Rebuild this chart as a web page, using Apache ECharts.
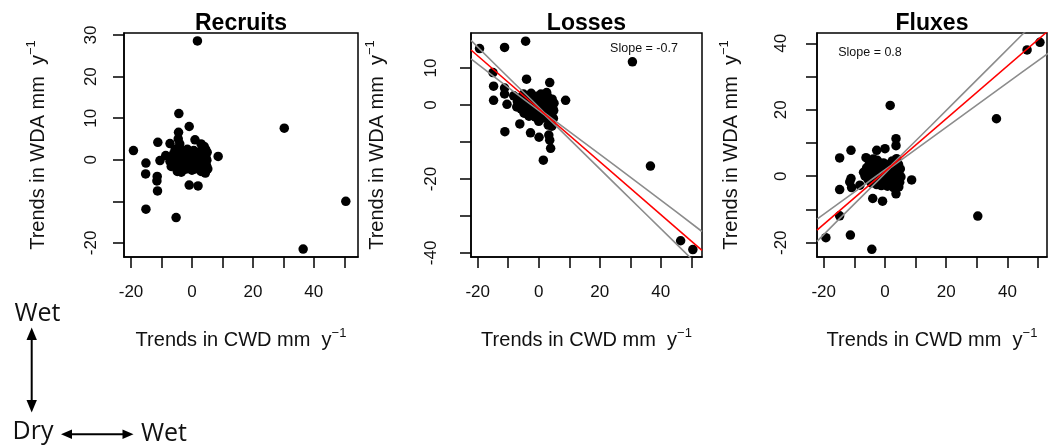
<!DOCTYPE html>
<html><head><meta charset="utf-8">
<script src="https://cdn.jsdelivr.net/npm/echarts@6/dist/echarts.min.js"></script>
<style>html,body{margin:0;padding:0;background:#fff}#c{width:1048px;height:448px}</style>
</head><body><div id="c"></div>
<script>
// ---------------- data ----------------
const panelTitles = ['Recruits', 'Losses', 'Fluxes'];
const xName = 'Trends in CWD mm  y';
const yName = 'Trends in WDA mm  y';
const xTicks = [-20, -10, 0, 10, 20, 30, 40, 50];
const xLabels = [-20, 0, 20, 40];
const recYTicks = [-20, -10, 0, 10, 20, 30];
const recYLabels = [-20, 0, 10, 20, 30];
const losYTicks = [-40, -30, -20, -10, 0, 10];
const losYLabels = [-40, -20, 0, 10];
const fluYTicks = [-20, -10, 0, 10, 20, 30, 40];
const fluYLabels = [-20, 0, 20, 40];

const recruits = [
  [-19.2,2.2],[1.8,28.6],[30.3,7.6],[50.5,-10.0],[36.5,-21.5],
  [-15.1,-0.8],[-15.2,-3.4],[-15.1,-11.9],[-11.2,4.2],[-11.4,-4.0],[-11.5,-5.1],[-11.3,-7.5],
  [-10.5,-0.2],[-5.2,-13.9],[-4.3,11.1],[-0.9,8.0],[-4.4,6.6],[-7.2,3.9],[1.0,4.8],[-0.9,-6.1],
  [2.0,-6.3],[8.6,0.8],[-8.6,1.0],[-4.5,5.0],[-4.0,3.8],[-3.8,2.5],[3.0,3.8],[4.0,3.2],[4.5,2.5],[-5.5,2.5],
  [-6.0,1.5],[-6.5,0.5],[-5.8,-0.8],[-5.2,-1.8],[-4.8,-2.8],[-4.5,0.2],[-4.2,1.2],[-3.8,-0.5],[-3.5,-1.5],
  [-3.2,0.8],[-3.0,-2.5],[-2.8,1.8],[-2.5,-0.2],[-2.2,-1.2],[-2.0,0.9],[-1.8,-2.2],[-1.5,0.1],[-1.2,-0.9],
  [-1.0,1.2],[-0.8,-1.8],[-0.5,0.4],[-0.2,-0.6],[0.0,-2.5],[0.2,0.9],[0.5,-1.2],[0.8,0.2],[1.0,-2.2],
  [1.3,1.5],[1.5,-0.6],[1.8,0.5],[2.0,-1.5],[2.2,1.8],[2.5,-0.3],[2.8,0.9],[3.0,-2.8],[3.2,-1.0],[3.4,2.2],
  [3.6,0.2],[3.8,-1.8],[4.0,1.2],[4.2,-0.6],[4.4,-3.2],[4.6,0.6],[4.8,-1.4],[5.0,1.8],[5.2,-2.2],[4.9,-0.1],
  [-1.5,2.5],[0.6,2.2],[-3.5,-3.0],[-7.2,-0.4],[-6.8,-1.6]
];
const losses = [
  [-19.4,15.3],[-11.2,15.6],[-4.3,17.3],[30.7,11.7],[36.6,-16.5],[46.5,-36.7],[50.5,-39.1],
  [-15.0,8.8],[-14.8,5.1],[-14.8,1.3],[-11.2,4.6],[-11.2,3.0],[-10.4,0.2],[-11.1,-7.2],[-4.0,7.0],
  [3.6,6.1],[1.5,-14.9],[-2.7,-7.5],[0.1,-8.7],[3.3,-8.1],[3.6,-9.5],[3.9,-11.7],[-6.2,-5.1],
  [8.8,1.3],[-8.2,2.5],[4.3,-5.7],[0.0,-4.4],[3.1,-5.4],
  [-6.0,2.0],[-5.5,0.5],[-5.8,-1.0],[-5.0,3.0],[-4.8,-2.2],[-4.5,1.2],[-4.2,-0.5],[-4.0,2.5],[-3.8,-1.6],
  [-3.5,0.3],[-3.2,-3.0],[-3.0,1.5],[-2.8,-0.8],[-2.5,3.2],[-2.3,0.6],[-2.0,-2.0],[-1.8,1.8],[-1.5,-0.2],
  [-1.2,-3.2],[-1.0,0.9],[-0.8,-1.2],[-0.5,2.4],[-0.3,0.0],[0.0,-2.2],[0.2,1.2],[0.5,-0.6],[0.7,3.0],
  [1.0,-1.7],[1.2,0.5],[1.5,-3.5],[1.7,1.8],[2.0,-0.4],[2.2,-2.5],[2.5,0.9],[2.8,-1.2],[3.0,2.2],[3.2,-0.2],
  [3.4,-3.2],[3.6,1.0],[3.8,-1.8],[4.0,0.3],[4.2,-2.6],[4.4,1.6],[4.6,-0.9],[4.8,-3.6],[5.0,0.5],[4.9,-1.5],
  [-3.5,-2.6],[1.5,2.6],[2.6,3.4],[-7.0,1.0],[-7.2,-0.5]
];
const fluxes = [
  [-19.3,-18.5],[-14.8,-4.0],[-14.8,5.5],[-14.8,-11.9],[-11.1,7.8],[-11.3,-17.7],[-11.1,-0.7],[-11.5,-1.7],
  [-10.9,-3.4],[-8.2,-2.7],[-4.3,-22.0],[-4.0,-6.7],[-0.8,-7.5],[1.7,21.3],[36.4,17.3],[30.3,-12.0],
  [46.4,38.0],[50.6,40.3],[8.7,-1.1],[3.6,-5.3],[3.6,11.3],[3.6,9.2],[0.0,8.3],[-2.7,7.8],[-6.2,5.6],[3.8,5.3],
  [-7.0,1.2],[-6.5,0.0],[-6.0,2.5],[-5.5,-1.0],[-5.2,3.5],[-5.0,1.0],[-4.5,-2.0],[-4.2,4.5],[-4.0,2.0],
  [-3.6,-0.5],[-3.3,3.0],[-3.0,0.8],[-2.7,-2.5],[-2.5,4.8],[-2.2,1.8],[-2.0,-1.0],[-1.7,3.2],[-1.5,0.3],
  [-1.2,-2.8],[-1.0,2.2],[-0.7,-0.3],[-0.5,4.0],[-0.2,1.2],[0.0,-1.8],[0.3,2.8],[0.5,0.2],[0.8,-3.0],
  [1.0,1.5],[1.2,-0.8],[1.5,3.6],[1.7,0.6],[2.0,-2.0],[2.2,2.2],[2.5,-0.4],[2.8,-3.4],[3.0,1.2],[3.2,-1.4],
  [3.4,3.0],[3.6,0.2],[3.8,-2.5],[4.0,1.8],[4.2,-0.8],[4.4,3.6],[4.6,0.6],[4.8,-1.8],[5.0,2.2],[5.2,-0.2],
  [4.5,-3.2],[-3.8,5.2],[2.4,4.6]
];

// fitted regression lines and confidence bands
const lossesFit   = [[-22.2,14.9],[53.5,-39.3]];
const lossesUpper = [[-22.2,17.5],[-15,11.6],[-8,5.9],[-2,1.1],[2,-2.2],[6,-4.7],[15,-10.2],[25,-16.4],[35,-22.6],[45,-28.8],[53.5,-34.2]];
const lossesLower = [[-22.2,12.5],[-15,7.9],[-8,3.5],[-2,-0.2],[2,-2.7],[6,-5.9],[15,-13.2],[25,-21.3],[35,-29.4],[45,-37.5],[53.5,-44.4]];
const fluxesFit   = [[-22.2,-16.2],[53.5,43.9]];
const fluxesUpper = [[-22.2,-12.9],[-15,-8.1],[-8,-3.4],[-2,0.6],[2,3.3],[6,7.0],[15,15.2],[25,24.4],[35,33.6],[45,42.8],[53.5,50.6]];
const fluxesLower = [[-22.2,-19.6],[-15,-12.9],[-8,-6.5],[-2,-1.0],[2,2.7],[6,5.4],[15,11.4],[25,18.1],[35,24.8],[45,31.5],[53.5,37.1]];
const slopeTexts = ['Slope = -0.7', 'Slope = 0.8'];
const dirLabels = ['Wet', 'Dry', 'Wet'];

// ---------------- layout ----------------
const FONT = 'Liberation Sans, Arial, sans-serif';
const grids = [
  {left: 124, top: 33, width: 234, height: 224},
  {left: 471, top: 33, width: 231, height: 224},
  {left: 817, top: 33, width: 230, height: 224}
];
const xRanges = [[-22.3, 54.5], [-22.2, 53.5], [-22.2, 52.9]];
const yRanges = [[-23.4, 30.5], [-41.1, 19.5], [-24.3, 43.1]];
const yTickSets = [recYTicks, losYTicks, fluYTicks];
const yLabelSets = [recYLabels, losYLabels, fluYLabels];
const yNameGaps = [73, 81, 73];
const yLabelMargins = [24, 31, 27];

const richName = {
  t: {fontSize: 20, lineHeight: 26, fontFamily: FONT, color: '#111'},
  s: {fontSize: 13, lineHeight: 13, verticalAlign: 'top', fontFamily: FONT, color: '#111'}
};
const lineAx = {show: true, onZero: false, lineStyle: {color: '#000', width: 1.5}};

const xAxes = grids.map((g, i) => ({
  type: 'value', gridIndex: i, min: xRanges[i][0], max: xRanges[i][1],
  axisLine: lineAx,
  axisTick: {show: true, length: 11, lineStyle: {color: '#000', width: 1.5}, customValues: xTicks},
  axisLabel: {customValues: xLabels, fontSize: 17, fontFamily: FONT, color: '#111', margin: 27},
  splitLine: {show: false},
  name: '{t|' + xName + '}{s|\u22121}', nameLocation: 'middle', nameGap: 70,
  nameTextStyle: {rich: richName}
}));
const yAxes = grids.map((g, i) => ({
  type: 'value', gridIndex: i, min: yRanges[i][0], max: yRanges[i][1],
  axisLine: lineAx,
  axisTick: {show: true, length: 11, lineStyle: {color: '#000', width: 1.5}, customValues: yTickSets[i]},
  axisLabel: {customValues: yLabelSets[i], fontSize: 17, fontFamily: FONT, color: '#111', rotate: 90, margin: yLabelMargins[i]},
  splitLine: {show: false},
  name: '{t|' + yName + '}{s|\u22121}', nameLocation: 'middle', nameGap: yNameGaps[i],
  nameTextStyle: {rich: richName}
}));

const scatterData = [recruits, losses, fluxes];
const series = scatterData.map((d, i) => ({
  type: 'scatter', xAxisIndex: i, yAxisIndex: i, data: d, symbolSize: 9.5,
  itemStyle: {color: '#000', opacity: 1}, silent: true
}));
function fitLine(data, idx, color) {
  return {type: 'line', xAxisIndex: idx, yAxisIndex: idx, data: data, showSymbol: false, symbol: 'none',
    clip: true, lineStyle: {color: color, width: 1.6}, silent: true, z: 5};
}
series.push(fitLine(lossesUpper, 1, '#8c8c8c'), fitLine(lossesLower, 1, '#8c8c8c'), fitLine(lossesFit, 1, '#ff0000'));
series.push(fitLine(fluxesUpper, 2, '#8c8c8c'), fitLine(fluxesLower, 2, '#8c8c8c'), fitLine(fluxesFit, 2, '#ff0000'));

const titles = grids.map((g, i) => ({
  text: panelTitles[i], left: g.left + g.width / 2, top: 12, textAlign: 'center', padding: 0,
  textStyle: {fontSize: 23, fontWeight: 'bold', fontFamily: FONT, color: '#000'}
}));

function txt(x, y, s, size, family, align) {
  return {type: 'text', x: x, y: y, silent: true,
    style: {text: s, fontSize: size, fontFamily: family, fill: '#111', align: align || 'center', verticalAlign: 'middle'}};
}
const AF = 'Open Sans, sans-serif';
const graphics = [
  txt(644, 49, slopeTexts[0], 12.5, FONT),
  txt(870, 53, slopeTexts[1], 12.5, FONT),
  txt(37.5, 314, dirLabels[0], 25, AF),
  txt(33, 432, dirLabels[1], 25, AF),
  txt(164, 434, dirLabels[2], 25, AF),
  {type: 'line', shape: {x1: 31.7, y1: 336, x2: 31.7, y2: 404}, style: {stroke: '#000', lineWidth: 2}},
  {type: 'polygon', shape: {points: [[31.7, 327.5], [26.5, 340], [36.9, 340]]}, style: {fill: '#000'}},
  {type: 'polygon', shape: {points: [[31.7, 412.5], [26.5, 400], [36.9, 400]]}, style: {fill: '#000'}},
  {type: 'line', shape: {x1: 70, y1: 434.3, x2: 125, y2: 434.3}, style: {stroke: '#000', lineWidth: 2}},
  {type: 'polygon', shape: {points: [[61, 434.3], [72, 429.5], [72, 439.1]]}, style: {fill: '#000'}},
  {type: 'polygon', shape: {points: [[133.5, 434.3], [122.5, 429.5], [122.5, 439.1]]}, style: {fill: '#000'}}
];

const chart = echarts.init(document.getElementById('c'), null, {renderer: 'canvas'});
chart.setOption({
  animation: false,
  backgroundColor: '#fff',
  title: titles,
  grid: grids.map(g => Object.assign({show: true, borderColor: '#000', borderWidth: 1.5, backgroundColor: 'transparent', containLabel: false}, g)),
  xAxis: xAxes,
  yAxis: yAxes,
  series: series,
  graphic: graphics
});
</script></body></html>
